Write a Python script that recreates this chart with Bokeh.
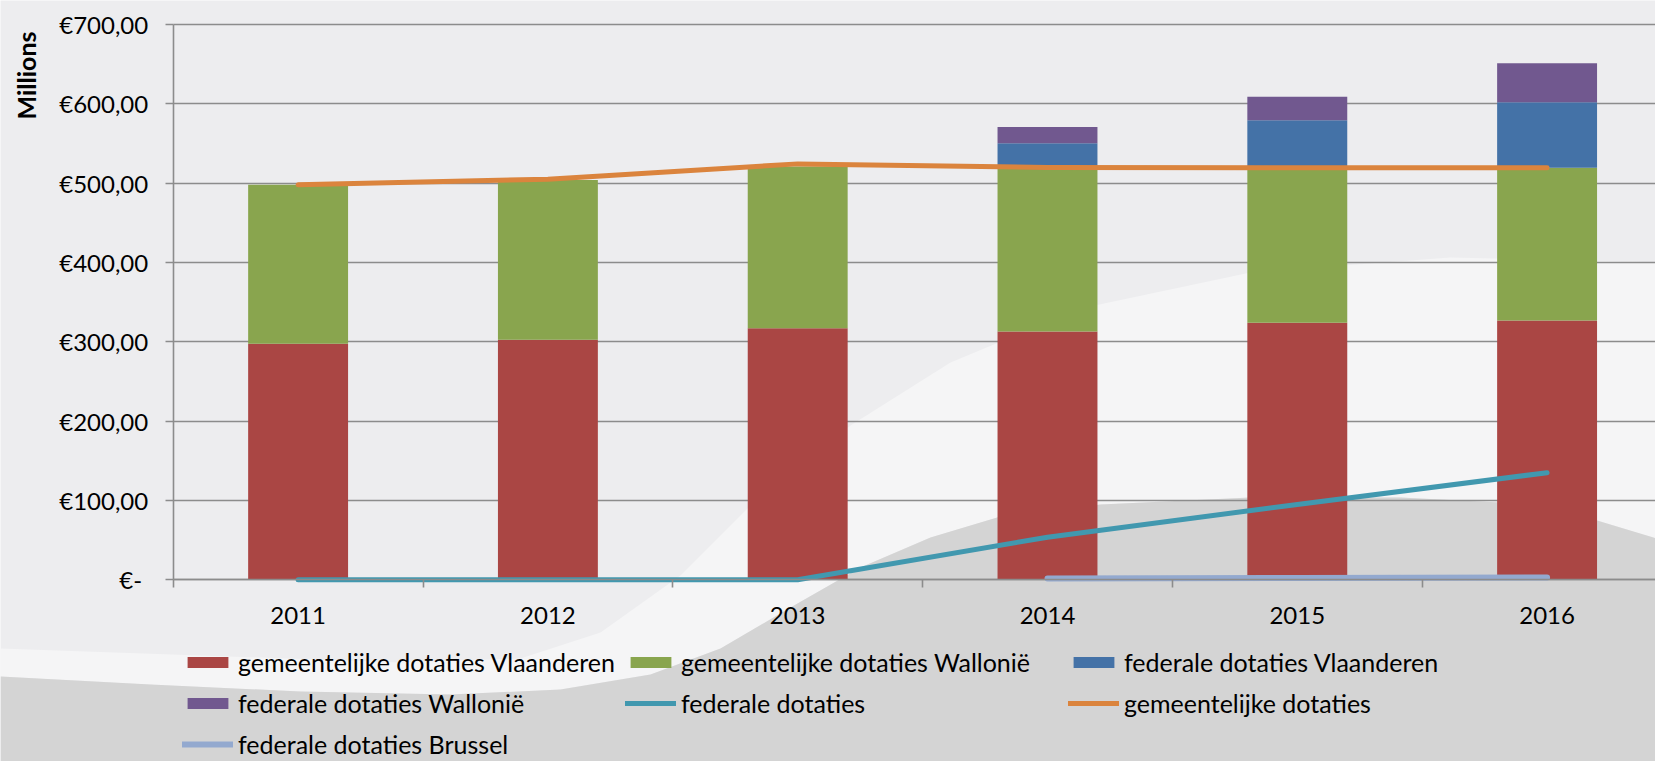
import math
from bokeh.plotting import figure
from bokeh.models import (ColumnDataSource, Range1d, FixedTicker, Legend, LegendItem,
                          Label, PolyAnnotation)
from bokeh.embed import file_html
from bokeh.resources import INLINE

# ---------------- data ----------------
years = ["2011", "2012", "2013", "2014", "2015", "2016"]
gem_vlaanderen = [297.5, 302.5, 317.2, 313.0, 324.0, 327.0]
gem_wallonie = [200.5, 201.5, 203.8, 207.5, 196.0, 192.3]
fed_vlaanderen = [0.0, 0.0, 0.0, 29.9, 59.4, 82.7]
fed_wallonie = [0.0, 0.0, 0.0, 20.5, 29.6, 49.1]
federale = [0.0, 0.0, 0.0, 53.7, 95.0, 135.0]
gemeentelijke = [498.0, 505.0, 524.3, 519.7, 519.5, 519.3]
fed_brussel = [None, None, None, 1.5, 2.2, 3.0]

series_names = [
    "gemeentelijke dotaties Vlaanderen",
    "gemeentelijke dotaties Wallonië",
    "federale dotaties Vlaanderen",
    "federale dotaties Wallonië",
    "federale dotaties",
    "gemeentelijke dotaties",
    "federale dotaties Brussel",
]
y_ticks = [0, 100, 200, 300, 400, 500, 600, 700]
y_tick_labels = ["€-\u00a0", "€100,00", "€200,00", "€300,00", "€400,00",
                 "€500,00", "€600,00", "€700,00"]
y_title = "Millions"

# ---------------- styling ----------------
FONT = "Lato"
FS = "24px"
FS_LEG = "25px"
C_RED, C_GREEN, C_BLUE, C_PURPLE = "#AA4644", "#89A54E", "#4472A7", "#71588F"
C_TEAL, C_ORANGE, C_LBLUE = "#4198AF", "#DB843D", "#93A9CF"
GRID = "#8C8C8C"
BG = "#EDEDEF"

W, H = 1655, 761
xs = [i + 1 for i in range(len(years))]
src = ColumnDataSource(dict(x=xs, gv=gem_vlaanderen, gw=gem_wallonie,
                            fv=fed_vlaanderen, fw=fed_wallonie))

# the frame covers the whole canvas; axes sit at fixed data locations
x_lo, x_hi = xs[0] - 0.5, xs[-1] + 0.5
p = figure(width=W, height=H, output_backend="svg", toolbar_location=None,
           x_range=Range1d(-0.1914, 6.434), y_range=Range1d(-229.05, 730.25),
           min_border=0)
p.background_fill_color = BG
p.border_fill_color = BG
p.outline_line_color = None

# decorative background swoosh (canvas pixels)
gray_x = [0, 150, 300, 450, 560, 650, 720, 790, 860, 930, 1000, 1100, 1250, 1400, 1500, 1580, 1663, 1663, 0]
gray_y = [676, 684, 691, 694, 689, 674, 648, 607, 567, 537, 516, 504, 497, 497, 502, 515, 540, 777, 777]
white_x = [0, 200, 400, 520, 600, 680, 760, 850, 950, 1080, 1250, 1450, 1663] + gray_x[:17][::-1]
white_y = [648, 655, 662, 658, 632, 575, 495, 425, 362, 308, 272, 257, 262] + gray_y[:17][::-1]
p.add_layout(PolyAnnotation(xs=white_x, ys=white_y, xs_units="canvas",
                            ys_units="canvas", fill_color="#F5F5F6", fill_alpha=1,
                            line_color=None, level="image"))
p.add_layout(PolyAnnotation(xs=gray_x, ys=gray_y, xs_units="canvas",
                            ys_units="canvas", fill_color="#D4D4D4", fill_alpha=1,
                            line_color=None, level="image"))

# grid
p.xgrid.visible = False
p.ygrid.ticker = FixedTicker(ticks=y_ticks)
p.ygrid.grid_line_color = GRID
p.ygrid.grid_line_width = 1.6
p.ygrid.cross_bounds = (x_lo, 6.434)

bars = p.vbar_stack(["gv", "gw", "fv", "fw"], x="x", width=0.4, source=src,
                    color=[C_RED, C_GREEN, C_BLUE, C_PURPLE], line_color=None)

r_fed = p.line(xs, federale, line_width=5, color=C_TEAL, line_cap="round", line_join="round")
r_gem = p.line(xs, gemeentelijke, line_width=5, color=C_ORANGE, line_cap="round", line_join="round")
bx = [x for x, v in zip(xs, fed_brussel) if v is not None]
by = [v for v in fed_brussel if v is not None]
r_bru = p.line(bx, by, line_width=6, color=C_LBLUE, line_cap="round", line_join="round")

# y axis
ya = p.yaxis[0]
ya.fixed_location = x_lo
ya.bounds = (y_ticks[0], y_ticks[-1])
ya.ticker = FixedTicker(ticks=y_ticks)
ya.major_label_overrides = {t: l for t, l in zip(y_ticks, y_tick_labels)}
ya.axis_line_color = GRID
ya.axis_line_width = 1.6
ya.major_tick_line_color = GRID
ya.major_tick_line_width = 1.6
ya.major_tick_in = 0
ya.major_tick_out = 8
ya.minor_tick_line_color = None
ya.major_label_standoff = 17
ya.major_label_text_font = FONT
ya.major_label_text_font_size = FS
ya.major_label_text_color = "#000000"

# x axis
xa = p.xaxis[0]
xa.fixed_location = 0
xa.bounds = (x_lo, 7.0)
xa.ticker = FixedTicker(ticks=xs, minor_ticks=[x - 0.5 for x in xs] + [x_hi])
xa.major_label_overrides = {x: y for x, y in zip(xs, years)}
xa.axis_line_color = GRID
xa.axis_line_width = 1.6
xa.major_tick_line_color = None
xa.major_tick_in = 0
xa.major_tick_out = 0
xa.minor_tick_line_color = GRID
xa.minor_tick_line_width = 1.6
xa.minor_tick_in = 0
xa.minor_tick_out = 8
xa.major_label_standoff = 19
xa.major_label_text_font = FONT
xa.major_label_text_font_size = FS
xa.major_label_text_color = "#000000"

# axis title at top-left
p.add_layout(Label(x=25, y=75, x_units="canvas", y_units="canvas", text=y_title,
                   angle=math.pi / 2, text_align="center", text_baseline="middle",
                   text_font=FONT, text_font_style="bold",
                   text_font_size="25px", text_color="#000000"))

legend = Legend(
    items=[LegendItem(label=series_names[i], renderers=[bars[i]]) for i in range(4)]
    + [LegendItem(label=series_names[4], renderers=[r_fed]),
       LegendItem(label=series_names[5], renderers=[r_gem]),
       LegendItem(label=series_names[6], renderers=[r_bru])],
    location=(182, 0), orientation="horizontal", ncols=3,
    background_fill_alpha=0, border_line_color=None, padding=0, margin=0,
    spacing=6, glyph_width=51, glyph_height=14, label_standoff=5,
    label_width=381, label_height=35,
    label_text_font=FONT, label_text_font_size=FS_LEG, label_text_color="#000000",
)
p.add_layout(legend)

open("out.html", "w").write(file_html(p, INLINE))
